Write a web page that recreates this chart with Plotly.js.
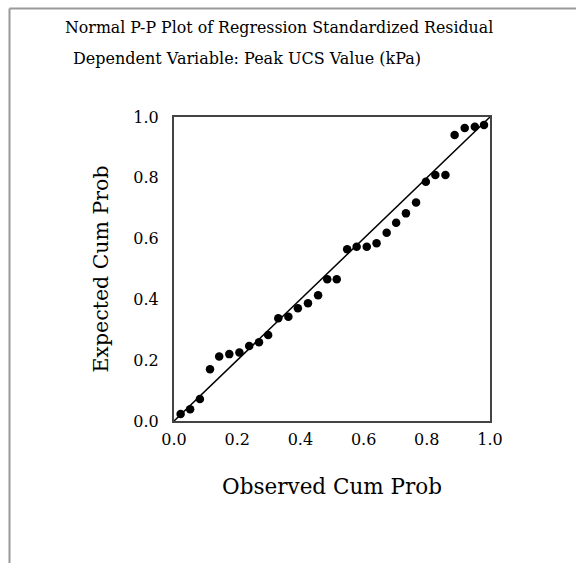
<!DOCTYPE html>
<html>
<head>
<meta charset="utf-8">
<script src="https://cdn.plot.ly/plotly-3.0.1.min.js"></script>
<style>
html,body{margin:0;padding:0;background:#fff;}
#chart{width:576px;height:563px;}
</style>
</head>
<body>
<div id="chart"></div>
<script>
// Observed cumulative probability (x) and expected cumulative probability (y)
var observedCumProb = [0.021, 0.051, 0.082, 0.114, 0.143, 0.175, 0.207, 0.238, 0.269, 0.298,
  0.330, 0.362, 0.392, 0.424, 0.456, 0.485, 0.515, 0.548, 0.578, 0.610,
  0.641, 0.673, 0.703, 0.734, 0.766, 0.797, 0.827, 0.859, 0.888, 0.920,
  0.952, 0.981];
var expectedCumProb = [0.023, 0.039, 0.072, 0.170, 0.212, 0.220, 0.225, 0.247, 0.259, 0.283,
  0.338, 0.343, 0.371, 0.387, 0.414, 0.466, 0.466, 0.565, 0.573, 0.573,
  0.585, 0.619, 0.652, 0.683, 0.719, 0.787, 0.809, 0.809, 0.941, 0.964,
  0.968, 0.974];
var refLineX = [0, 1];
var refLineY = [0, 1];
var tickValues = [0, 0.2, 0.4, 0.6, 0.8, 1.0];
var tickLabels = ["0.0", "0.2", "0.4", "0.6", "0.8", "1.0"];

var serif = "DejaVu Serif, serif";

var traces = [
  {x: refLineX, y: refLineY, mode: "lines", type: "scatter",
   line: {color: "#000", width: 1.5}, hoverinfo: "skip", showlegend: false},
  {x: observedCumProb, y: expectedCumProb, mode: "markers", type: "scatter",
   marker: {color: "#000", size: 8.5}, cliponaxis: false, showlegend: false}
];

var layout = {
  width: 576, height: 563,
  margin: {l: 174, r: 86, t: 117, b: 142},
  paper_bgcolor: "#fff", plot_bgcolor: "#fff",
  showlegend: false,
  font: {family: serif, color: "#000"},
  xaxis: {
    range: [0, 1], tickvals: tickValues, ticktext: tickLabels,
    showgrid: false, zeroline: false, ticks: "", ticklabelstandoff: 3,
    showline: true, mirror: true, linecolor: "#444", linewidth: 2,
    tickfont: {family: serif, size: 16, color: "#000"},
    title: {text: "Observed Cum Prob", font: {family: serif, size: 21.5, color: "#000"}, standoff: 31}
  },
  yaxis: {
    range: [0, 1], tickvals: tickValues, ticktext: tickLabels,
    showgrid: false, zeroline: false, ticks: "", ticklabelstandoff: 10,
    showline: true, mirror: true, linecolor: "#444", linewidth: 2,
    tickfont: {family: serif, size: 16, color: "#000"},
    title: {text: "Expected Cum Prob", font: {family: serif, size: 20.5, color: "#000"}, standoff: 19}
  },
  annotations: [
    {text: "Normal P-P Plot of Regression Standardized Residual", xref: "paper", yref: "paper",
     x: (63 - 174) / 316, y: (421 - 28) / 304, xanchor: "left", yanchor: "middle", showarrow: false,
     font: {family: serif, size: 15.8, color: "#000"}},
    {text: "Dependent Variable: Peak UCS Value (kPa)", xref: "paper", yref: "paper",
     x: (71 - 174) / 316, y: (421 - 58) / 304, xanchor: "left", yanchor: "middle", showarrow: false,
     font: {family: serif, size: 16, color: "#000"}}
  ],
  shapes: [
    {type: "line", xref: "paper", yref: "paper", x0: (9.5 - 174) / 316, x1: (576 - 174) / 316,
     y0: (421 - 8.5) / 304, y1: (421 - 8.5) / 304, line: {color: "#999", width: 2}},
    {type: "line", xref: "paper", yref: "paper", x0: (9.5 - 174) / 316, x1: (9.5 - 174) / 316,
     y0: (421 - 8.5) / 304, y1: (421 - 563) / 304, line: {color: "#999", width: 2}}
  ]
};

Plotly.newPlot("chart", traces, layout, {displayModeBar: false, staticPlot: true});
</script>
</body>
</html>
